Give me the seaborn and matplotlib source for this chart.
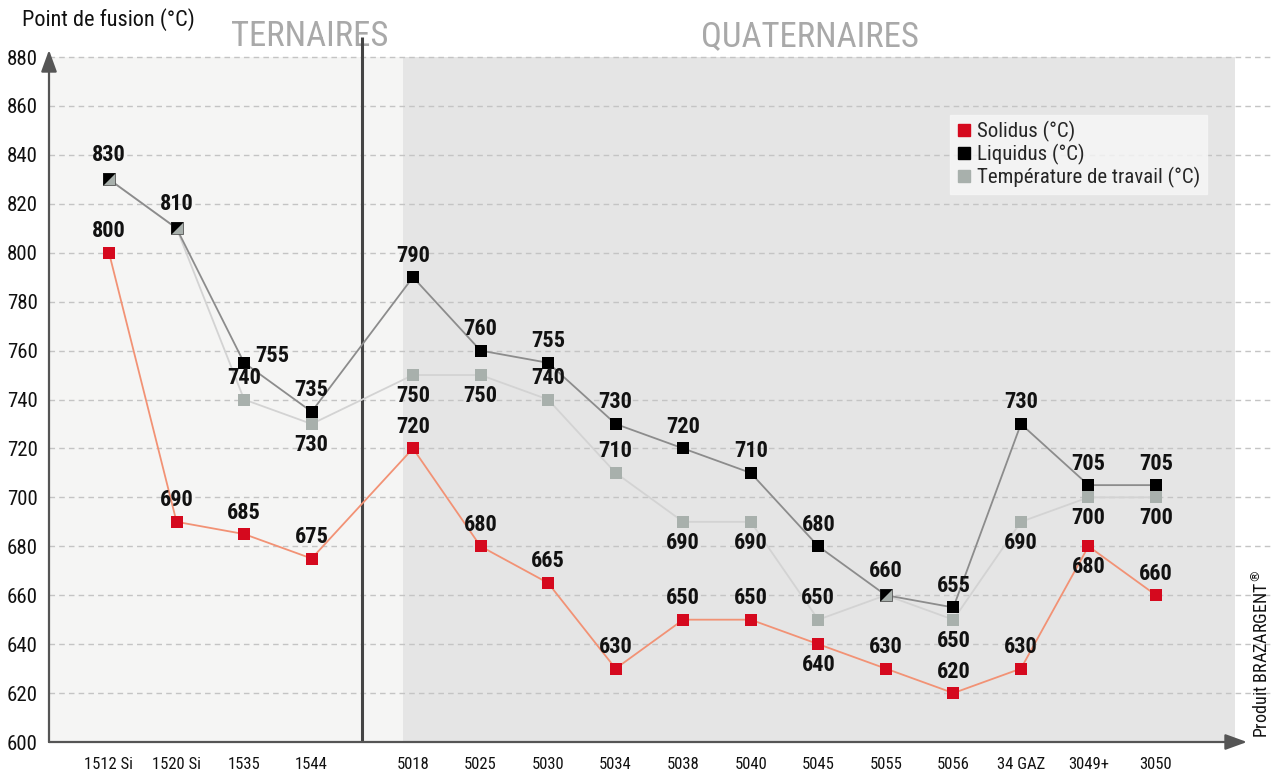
import matplotlib
matplotlib.use("Agg")
import matplotlib.pyplot as plt
from matplotlib import font_manager
from matplotlib.path import Path
from matplotlib.lines import Line2D
import numpy as np
import pandas as pd
import seaborn as sns

# ---- data ----
categories = ["1512 Si", "1520 Si", "1535", "1544",
              "5018", "5025", "5030", "5034", "5038", "5040",
              "5045", "5055", "5056", "34 GAZ", "3049+", "3050"]
solidus = [800, 690, 685, 675, 720, 680, 665, 630, 650, 650, 640, 630, 620, 630, 680, 660]
liquidus = [830, 810, 755, 735, 790, 760, 755, 730, 720, 710, 680, 660, 655, 730, 705, 705]
travail = [830, 810, 740, 730, 750, 750, 740, 710, 690, 690, 650, 660, 650, 690, 700, 700]

# label placement per point: 'a' above, 'b' below, 'r' right
solidus_pos = ["a", "a", "a", "a", "a", "a", "a", "a", "a", "a", "b", "a", "a", "a", "b", "a"]
liquidus_pos = ["a", "a", "r", "a", "a", "a", "a", "a", "a", "a", "a", "a", "a", "a", "a", "a"]
travail_pos = ["a", "a", "a", "b", "b", "b", "a", "a", "b", "b", "a", "a", "b", "b", "b", "b"]

groups = ["TERNAIRES", "QUATERNAIRES"]
n_ternaires = 4

# ---- fonts ----
sns.set_theme(style="white")
available = {f.name for f in font_manager.fontManager.ttflist}
base_font = next((f for f in ["Roboto Condensed", "Liberation Sans Narrow", "Roboto"]
                  if f in available), "DejaVu Sans")
plt.rcParams["font.family"] = [base_font, "DejaVu Sans"]

# x positions: a gap of 1.5 between the two families
xpos = np.array([i if i < n_ternaires else i + 0.5 for i in range(len(categories))], float)

RED = "#d5091e"
RED_LINE = "#f29275"
BLACK = "#000000"
DARK_LINE = "#8c8c8c"
GREY = "#a8b0ac"
GREY_LINE = "#d3d3d3"

fig = plt.figure(figsize=(12.73, 7.73), dpi=100)
# axes spanning from the y-axis (px 49) to the x arrow tip (px 1247), 600 at px 742
ax = fig.add_axes([49 / 1273, 1 - 742 / 773, (1247 - 49) / 1273, (742 - 50) / 773])
px = 67.55
x_left = (49 - 109) / px
x_right = (1247 - 109) / px
ax.set_xlim(x_left, x_right)
upp = 280 / (742 - 57)
ax.set_ylim(600, 600 + (742 - 50) * upp)
for s in ax.spines.values():
    s.set_visible(False)
ax.set_facecolor("white")

# background panels
x_split = 3.75
x_quat0 = (403 - 109) / px
x_quat1 = (1235 - 109) / px
ax.fill_between([x_left, x_quat0], 600, 880, color="#f5f5f4", lw=0, zorder=0)
ax.fill_between([x_quat0, x_quat1], 600, 880, color="#e5e5e5", lw=0, zorder=0)

# grid
grid_right = (1271 - 109) / px
for v in range(620, 881, 20):
    ax.plot([x_left, grid_right], [v, v], color="#c4c4c4", lw=1, ls=(0, (4, 3)),
            zorder=1, clip_on=False)

# separator
ax.plot([x_split, x_split], [600, 888], color="#444444", lw=2.2, zorder=2, clip_on=False,
        solid_capstyle="butt")

# axes arrows
ax.annotate("", xy=(x_right, 600), xytext=(x_left, 600), xycoords="data",
            arrowprops=dict(arrowstyle="-|>,head_length=1.1,head_width=0.4", color="#555555",
                            lw=1.6, shrinkA=0, shrinkB=0), annotation_clip=False, zorder=3)
ax.annotate("", xy=(x_left, 600 + (742 - 50) * upp), xytext=(x_left, 600), xycoords="data",
            arrowprops=dict(arrowstyle="-|>,head_length=1.1,head_width=0.4", color="#555555",
                            lw=1.6, shrinkA=0, shrinkB=0), annotation_clip=False, zorder=3)

# ---- series ----
df = pd.DataFrame({
    "x": np.tile(xpos, 3),
    "value": solidus + liquidus + travail,
    "serie": ["Solidus (°C)"] * len(xpos) + ["Liquidus (°C)"] * len(xpos)
             + ["Température de travail (°C)"] * len(xpos),
})
line_pal = {"Solidus (°C)": RED_LINE, "Liquidus (°C)": DARK_LINE,
            "Température de travail (°C)": GREY_LINE}
mark_pal = {"Solidus (°C)": RED, "Liquidus (°C)": BLACK,
            "Température de travail (°C)": GREY}
order = ["Température de travail (°C)", "Liquidus (°C)", "Solidus (°C)"]
for name in order:
    sub = df[df["serie"] == name]
    sns.lineplot(data=sub, x="x", y="value", color=line_pal[name], lw=1.3,
                 sort=False, ax=ax, zorder=4, legend=False)

ms = 9.0
for name in order:
    sub = df[df["serie"] == name]
    sns.scatterplot(data=sub, x="x", y="value", color=mark_pal[name], marker="s",
                    s=ms ** 2, linewidth=0, ax=ax, zorder=5, legend=False)

# points where liquidus equals working temperature: split marker
same = [i for i in range(len(xpos)) if liquidus[i] == travail[i]]
tri = Path([(-1, 1), (1, 1), (-1, -1), (-1, 1)],
           [Path.MOVETO, Path.LINETO, Path.LINETO, Path.CLOSEPOLY])
for i in same:
    ax.plot(xpos[i], travail[i], marker="s", ms=ms, mfc=GREY, mec="#555555", mew=0.6,
            zorder=6, ls="none")
    ax.plot(xpos[i], liquidus[i], marker=tri, ms=ms, mfc=BLACK, mec=BLACK, mew=0,
            zorder=7, ls="none")

ax.set_xlabel("")
ax.set_ylabel("")

# ---- value labels ----
lab_kw = dict(fontsize=16, fontweight="bold", color="#111111", zorder=8,
              textcoords="offset points", annotation_clip=False)


def put_labels(values, places, skip=(), up=15.5):
    for i, (v, p) in enumerate(zip(values, places)):
        if i in skip:
            continue
        if p == "a":
            off, ha = (0, up), "center"
        elif p == "b":
            off, ha = (0, -15), "center"
        else:
            off, ha = (8, 5), "left"
        ax.annotate(str(v), (xpos[i], v), xytext=off, ha=ha, va="center", **lab_kw)


put_labels(solidus, solidus_pos)
put_labels([v for v in liquidus], liquidus_pos, skip=same)
put_labels([liquidus[i] if i in same else 0 for i in range(len(liquidus))],
           ["a"] * len(liquidus), skip=[i for i in range(len(liquidus)) if i not in same],
           up=17.5)
put_labels(travail, travail_pos, skip=same)

# ---- ticks ----
ax.set_xticks(xpos)
ax.set_xticklabels(categories, fontsize=12, color="#111111")
ax.set_yticks(range(600, 881, 20))
ax.set_yticklabels([str(v) for v in range(600, 881, 20)], fontsize=15, color="#111111")
ax.tick_params(axis="x", length=0, pad=11)
ax.tick_params(axis="y", length=0, pad=8)

# ---- headings ----
fig.text(22 / 1273, 1 - 20 / 773, "Point de fusion (°C)", fontsize=16, color="#111111",
         ha="left", va="center")
ax.text((310 - 109) / px, 888.5, groups[0], fontsize=25, color="#a9a9a9", ha="center",
        va="center", zorder=1)
ax.text((810 - 109) / px, 888.5, groups[1], fontsize=25, color="#a9a9a9", ha="center",
        va="center", zorder=1)
fig.text(1262 / 1273, 1 - 654 / 773, "Produit BRAZARGENT$^{\\circledR}$", rotation=90,
         fontsize=13, color="#111111", ha="center", va="center")

# ---- legend ----
handles = [Line2D([], [], marker="s", ls="none", ms=9, mfc=mark_pal[n], mec=mark_pal[n])
           for n in ["Solidus (°C)", "Liquidus (°C)", "Température de travail (°C)"]]
leg = ax.legend(handles, ["Solidus (°C)", "Liquidus (°C)", "Température de travail (°C)"],
                loc="upper left", bbox_to_anchor=((950 - 49) / 1198, 1 - (115 - 50) / 692),
                frameon=True, fancybox=False, fontsize=15, handlelength=0.7,
                handletextpad=0.3, labelspacing=0.08, borderpad=0.3, borderaxespad=0)
leg.get_frame().set_facecolor("#f7f7f7")
leg.get_frame().set_edgecolor("#f7f7f7")
leg.set_zorder(9)

fig.savefig("out.png", dpi=100, facecolor="white")
